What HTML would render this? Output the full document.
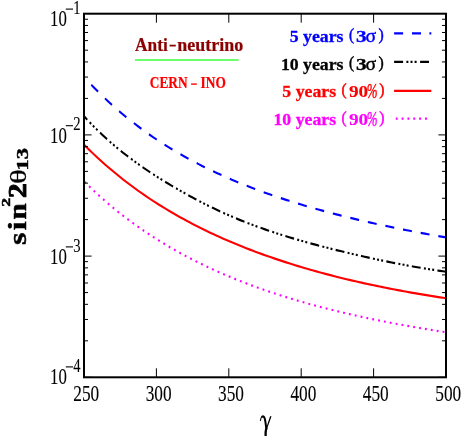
<!DOCTYPE html>
<html><head><meta charset="utf-8"><title>plot</title>
<style>html,body{margin:0;padding:0;background:#fff;}body{width:463px;height:436px;overflow:hidden;}svg{display:block;will-change:transform;opacity:0.999;}text{font-family:"Liberation Serif",serif;}</style></head><body>
<svg width="463" height="436" viewBox="0 0 463 436">
<rect x="0" y="0" width="463" height="436" fill="#fff"/>
<g transform="scale(0.85,1)" fill="none" stroke-width="2.15">
<path d="M98.82 76.94 L102.37 80.23 L105.92 83.45 L109.47 86.60 L113.02 89.67 L116.57 92.68 L120.12 95.63 L123.67 98.51 L127.22 101.34 L130.76 104.10 L134.31 106.80 L137.86 109.45 L141.41 112.04 L144.96 114.58 L148.51 117.06 L152.06 119.50 L155.61 121.89 L159.16 124.22 L162.71 126.51 L166.25 128.76 L169.80 130.96 L173.35 133.12 L176.90 135.23 L180.45 137.31 L184.00 139.34 L187.55 141.33 L191.10 143.29 L194.65 145.21 L198.20 147.09 L201.75 148.94 L205.29 150.75 L208.84 152.53 L212.39 154.28 L215.94 155.99 L219.49 157.68 L223.04 159.33 L226.59 160.96 L230.14 162.55 L233.69 164.12 L237.24 165.66 L240.78 167.17 L244.33 168.65 L247.88 170.11 L251.43 171.55 L254.98 172.96 L258.53 174.35 L262.08 175.71 L265.63 177.05 L269.18 178.37 L272.73 179.67 L276.27 180.95 L279.82 182.20 L283.37 183.44 L286.92 184.66 L290.47 185.85 L294.02 187.03 L297.57 188.19 L301.12 189.34 L304.67 190.46 L308.22 191.57 L311.76 192.66 L315.31 193.73 L318.86 194.79 L322.41 195.84 L325.96 196.86 L329.51 197.88 L333.06 198.88 L336.61 199.86 L340.16 200.83 L343.71 201.79 L347.25 202.73 L350.80 203.66 L354.35 204.57 L357.90 205.48 L361.45 206.37 L365.00 207.25 L368.55 208.11 L372.10 208.97 L375.65 209.81 L379.20 210.65 L382.75 211.47 L386.29 212.28 L389.84 213.08 L393.39 213.87 L396.94 214.65 L400.49 215.42 L404.04 216.18 L407.59 216.93 L411.14 217.67 L414.69 218.40 L418.24 219.12 L421.78 219.84 L425.33 220.54 L428.88 221.24 L432.43 221.93 L435.98 222.61 L439.53 223.28 L443.08 223.95 L446.63 224.61 L450.18 225.25 L453.73 225.90 L457.27 226.53 L460.82 227.16 L464.37 227.78 L467.92 228.40 L471.47 229.00 L475.02 229.61 L478.57 230.20 L482.12 230.79 L485.67 231.37 L489.22 231.95 L492.76 232.52 L496.31 233.08 L499.86 233.64 L503.41 234.20 L506.96 234.74 L510.51 235.29 L514.06 235.83 L517.61 236.36 L521.16 236.88 L524.71 237.41" stroke="#0000ff" stroke-dasharray="10.55 10.48" stroke-dashoffset="9.41"/>
<path d="M98.82 116.11 L102.37 119.43 L105.92 122.64 L109.47 125.76 L113.02 128.79 L116.57 131.74 L120.12 134.61 L123.67 137.40 L127.22 140.12 L130.76 142.77 L134.31 145.36 L137.86 147.89 L141.41 150.36 L144.96 152.77 L148.51 155.14 L152.06 157.45 L155.61 159.71 L159.16 161.93 L162.71 164.10 L166.25 166.24 L169.80 168.33 L173.35 170.38 L176.90 172.40 L180.45 174.38 L184.00 176.32 L187.55 178.24 L191.10 180.12 L194.65 181.98 L198.20 183.81 L201.75 185.61 L205.29 187.39 L208.84 189.14 L212.39 190.88 L215.94 192.58 L219.49 194.27 L223.04 195.93 L226.59 197.57 L230.14 199.19 L233.69 200.78 L237.24 202.34 L240.78 203.88 L244.33 205.40 L247.88 206.89 L251.43 208.35 L254.98 209.79 L258.53 211.20 L262.08 212.59 L265.63 213.95 L269.18 215.28 L272.73 216.59 L276.27 217.87 L279.82 219.13 L283.37 220.36 L286.92 221.56 L290.47 222.74 L294.02 223.90 L297.57 225.04 L301.12 226.15 L304.67 227.25 L308.22 228.32 L311.76 229.38 L315.31 230.42 L318.86 231.43 L322.41 232.43 L325.96 233.42 L329.51 234.39 L333.06 235.34 L336.61 236.28 L340.16 237.20 L343.71 238.11 L347.25 239.00 L350.80 239.88 L354.35 240.75 L357.90 241.61 L361.45 242.45 L365.00 243.28 L368.55 244.10 L372.10 244.91 L375.65 245.72 L379.20 246.51 L382.75 247.29 L386.29 248.06 L389.84 248.83 L393.39 249.58 L396.94 250.33 L400.49 251.07 L404.04 251.80 L407.59 252.53 L411.14 253.25 L414.69 253.96 L418.24 254.66 L421.78 255.36 L425.33 256.05 L428.88 256.73 L432.43 257.40 L435.98 258.07 L439.53 258.72 L443.08 259.37 L446.63 260.01 L450.18 260.64 L453.73 261.26 L457.27 261.88 L460.82 262.48 L464.37 263.07 L467.92 263.66 L471.47 264.23 L475.02 264.80 L478.57 265.36 L482.12 265.91 L485.67 266.44 L489.22 266.97 L492.76 267.49 L496.31 268.00 L499.86 268.50 L503.41 268.98 L506.96 269.46 L510.51 269.93 L514.06 270.39 L517.61 270.84 L521.16 271.27 L524.71 271.70" stroke="#000" stroke-dasharray="10.5 3.87 2.33 2.58 2.33 2.58 2.33 3.85" stroke-dashoffset="5.22"/>
<path d="M98.82 144.60 L102.37 147.62 L105.92 150.58 L109.47 153.48 L113.02 156.33 L116.57 159.11 L120.12 161.84 L123.67 164.52 L127.22 167.14 L130.76 169.72 L134.31 172.24 L137.86 174.72 L141.41 177.15 L144.96 179.53 L148.51 181.87 L152.06 184.17 L155.61 186.42 L159.16 188.63 L162.71 190.80 L166.25 192.93 L169.80 195.02 L173.35 197.08 L176.90 199.09 L180.45 201.07 L184.00 203.02 L187.55 204.93 L191.10 206.81 L194.65 208.66 L198.20 210.47 L201.75 212.25 L205.29 214.00 L208.84 215.72 L212.39 217.42 L215.94 219.08 L219.49 220.72 L223.04 222.33 L226.59 223.91 L230.14 225.46 L233.69 227.00 L237.24 228.50 L240.78 229.98 L244.33 231.44 L247.88 232.88 L251.43 234.29 L254.98 235.68 L258.53 237.04 L262.08 238.39 L265.63 239.71 L269.18 241.02 L272.73 242.30 L276.27 243.57 L279.82 244.81 L283.37 246.04 L286.92 247.25 L290.47 248.44 L294.02 249.61 L297.57 250.76 L301.12 251.90 L304.67 253.02 L308.22 254.12 L311.76 255.21 L315.31 256.27 L318.86 257.33 L322.41 258.37 L325.96 259.39 L329.51 260.40 L333.06 261.39 L336.61 262.37 L340.16 263.33 L343.71 264.28 L347.25 265.21 L350.80 266.13 L354.35 267.04 L357.90 267.94 L361.45 268.82 L365.00 269.69 L368.55 270.54 L372.10 271.39 L375.65 272.22 L379.20 273.04 L382.75 273.84 L386.29 274.64 L389.84 275.42 L393.39 276.20 L396.94 276.96 L400.49 277.71 L404.04 278.45 L407.59 279.18 L411.14 279.90 L414.69 280.61 L418.24 281.31 L421.78 282.00 L425.33 282.68 L428.88 283.34 L432.43 284.00 L435.98 284.66 L439.53 285.30 L443.08 285.93 L446.63 286.55 L450.18 287.17 L453.73 287.77 L457.27 288.37 L460.82 288.96 L464.37 289.54 L467.92 290.11 L471.47 290.68 L475.02 291.23 L478.57 291.78 L482.12 292.32 L485.67 292.86 L489.22 293.38 L492.76 293.90 L496.31 294.41 L499.86 294.91 L503.41 295.41 L506.96 295.90 L510.51 296.38 L514.06 296.86 L517.61 297.33 L521.16 297.79 L524.71 298.25" stroke="#ff0000"/>
<path d="M98.82 181.30 L102.37 184.28 L105.92 187.20 L109.47 190.06 L113.02 192.87 L116.57 195.62 L120.12 198.31 L123.67 200.96 L127.22 203.55 L130.76 206.09 L134.31 208.59 L137.86 211.03 L141.41 213.43 L144.96 215.79 L148.51 218.10 L152.06 220.37 L155.61 222.59 L159.16 224.78 L162.71 226.92 L166.25 229.03 L169.80 231.09 L173.35 233.12 L176.90 235.12 L180.45 237.07 L184.00 239.00 L187.55 240.88 L191.10 242.74 L194.65 244.56 L198.20 246.35 L201.75 248.11 L205.29 249.83 L208.84 251.53 L212.39 253.20 L215.94 254.84 L219.49 256.45 L223.04 258.04 L226.59 259.59 L230.14 261.12 L233.69 262.63 L237.24 264.11 L240.78 265.56 L244.33 267.00 L247.88 268.40 L251.43 269.79 L254.98 271.15 L258.53 272.49 L262.08 273.81 L265.63 275.10 L269.18 276.38 L272.73 277.63 L276.27 278.87 L279.82 280.08 L283.37 281.28 L286.92 282.45 L290.47 283.61 L294.02 284.75 L297.57 285.87 L301.12 286.98 L304.67 288.06 L308.22 289.13 L311.76 290.19 L315.31 291.23 L318.86 292.25 L322.41 293.25 L325.96 294.24 L329.51 295.22 L333.06 296.18 L336.61 297.13 L340.16 298.06 L343.71 298.98 L347.25 299.89 L350.80 300.78 L354.35 301.66 L357.90 302.52 L361.45 303.38 L365.00 304.22 L368.55 305.05 L372.10 305.86 L375.65 306.67 L379.20 307.46 L382.75 308.24 L386.29 309.01 L389.84 309.77 L393.39 310.52 L396.94 311.26 L400.49 311.99 L404.04 312.71 L407.59 313.42 L411.14 314.12 L414.69 314.81 L418.24 315.49 L421.78 316.16 L425.33 316.82 L428.88 317.47 L432.43 318.11 L435.98 318.75 L439.53 319.38 L443.08 319.99 L446.63 320.60 L450.18 321.21 L453.73 321.80 L457.27 322.39 L460.82 322.96 L464.37 323.54 L467.92 324.10 L471.47 324.66 L475.02 325.20 L478.57 325.75 L482.12 326.28 L485.67 326.81 L489.22 327.33 L492.76 327.85 L496.31 328.36 L499.86 328.86 L503.41 329.36 L506.96 329.85 L510.51 330.33 L514.06 330.81 L517.61 331.28 L521.16 331.75 L524.71 332.21" stroke="#ff00ff" stroke-dasharray="2.2 4.776" stroke-dashoffset="6.25"/>
</g>
<g stroke="#000" stroke-width="1" fill="none">
<path d="M156.40 13.7 v9 M156.40 377.3 v-9 M228.80 13.7 v9 M228.80 377.3 v-9 M301.20 13.7 v9 M301.20 377.3 v-9 M373.60 13.7 v9 M373.60 377.3 v-9 M84.0 134.90 h7.6 M446.0 134.90 h-7.6 M84.0 98.42 h4.0 M446.0 98.42 h-4.0 M84.0 77.07 h4.0 M446.0 77.07 h-4.0 M84.0 61.93 h4.0 M446.0 61.93 h-4.0 M84.0 50.18 h4.0 M446.0 50.18 h-4.0 M84.0 40.59 h4.0 M446.0 40.59 h-4.0 M84.0 32.47 h4.0 M446.0 32.47 h-4.0 M84.0 25.45 h4.0 M446.0 25.45 h-4.0 M84.0 19.25 h4.0 M446.0 19.25 h-4.0 M84.0 256.10 h7.6 M446.0 256.10 h-7.6 M84.0 219.62 h4.0 M446.0 219.62 h-4.0 M84.0 198.27 h4.0 M446.0 198.27 h-4.0 M84.0 183.13 h4.0 M446.0 183.13 h-4.0 M84.0 171.38 h4.0 M446.0 171.38 h-4.0 M84.0 161.79 h4.0 M446.0 161.79 h-4.0 M84.0 153.67 h4.0 M446.0 153.67 h-4.0 M84.0 146.65 h4.0 M446.0 146.65 h-4.0 M84.0 140.45 h4.0 M446.0 140.45 h-4.0 M84.0 377.30 h7.6 M446.0 377.30 h-7.6 M84.0 340.82 h4.0 M446.0 340.82 h-4.0 M84.0 319.47 h4.0 M446.0 319.47 h-4.0 M84.0 304.33 h4.0 M446.0 304.33 h-4.0 M84.0 292.58 h4.0 M446.0 292.58 h-4.0 M84.0 282.99 h4.0 M446.0 282.99 h-4.0 M84.0 274.87 h4.0 M446.0 274.87 h-4.0 M84.0 267.85 h4.0 M446.0 267.85 h-4.0 M84.0 261.65 h4.0 M446.0 261.65 h-4.0"/>
</g>
<rect x="84.0" y="13.7" width="362.00" height="363.60" fill="none" stroke="#000" stroke-width="2"/>
<g transform="translate(50.1,26.20)"><text x="0" y="0" font-size="24" stroke="#000" stroke-width="0.12" transform="scale(0.70,1)">10</text><path d="M15.7 -17.1 H22.9" stroke="#000" stroke-width="1.1" fill="none"/><text x="0" y="0" font-size="18.5" stroke="#000" stroke-width="0.1" text-anchor="middle" transform="translate(26.8,-12.4) scale(0.79,1)">1</text></g>
<g transform="translate(50.1,142.80)"><text x="0" y="0" font-size="24" stroke="#000" stroke-width="0.12" transform="scale(0.70,1)">10</text><path d="M15.7 -17.1 H22.9" stroke="#000" stroke-width="1.1" fill="none"/><text x="0" y="0" font-size="18.5" stroke="#000" stroke-width="0.1" text-anchor="middle" transform="translate(26.8,-12.4) scale(0.79,1)">2</text></g>
<g transform="translate(50.1,264.00)"><text x="0" y="0" font-size="24" stroke="#000" stroke-width="0.12" transform="scale(0.70,1)">10</text><path d="M15.7 -17.1 H22.9" stroke="#000" stroke-width="1.1" fill="none"/><text x="0" y="0" font-size="18.5" stroke="#000" stroke-width="0.1" text-anchor="middle" transform="translate(26.8,-12.4) scale(0.79,1)">3</text></g>
<g transform="translate(50.1,384.00)"><text x="0" y="0" font-size="24" stroke="#000" stroke-width="0.12" transform="scale(0.70,1)">10</text><path d="M15.7 -17.1 H22.9" stroke="#000" stroke-width="1.1" fill="none"/><text x="0" y="0" font-size="18.5" stroke="#000" stroke-width="0.1" text-anchor="middle" transform="translate(26.8,-12.4) scale(0.79,1)">4</text></g>
<g transform="translate(86.20,400.6) scale(0.745,1)"><text x="0" y="0" font-size="23.2" stroke="#000" stroke-width="0.12" text-anchor="middle">250</text></g>
<g transform="translate(158.60,400.6) scale(0.745,1)"><text x="0" y="0" font-size="23.2" stroke="#000" stroke-width="0.12" text-anchor="middle">300</text></g>
<g transform="translate(231.00,400.6) scale(0.745,1)"><text x="0" y="0" font-size="23.2" stroke="#000" stroke-width="0.12" text-anchor="middle">350</text></g>
<g transform="translate(303.40,400.6) scale(0.745,1)"><text x="0" y="0" font-size="23.2" stroke="#000" stroke-width="0.12" text-anchor="middle">400</text></g>
<g transform="translate(375.80,400.6) scale(0.745,1)"><text x="0" y="0" font-size="23.2" stroke="#000" stroke-width="0.12" text-anchor="middle">450</text></g>
<g transform="translate(448.20,400.6) scale(0.745,1)"><text x="0" y="0" font-size="23.2" stroke="#000" stroke-width="0.12" text-anchor="middle">500</text></g>
<g fill="none" stroke="#000" stroke-linecap="round"><path d="M260.4 420.4 C260.7 418.3 261.4 416.9 262.4 416.5" stroke-width="1.1"/><path d="M262.2 416.6 C263.4 415.9 264.4 416.8 265.0 419.6 C265.5 422.0 265.9 425.0 266.3 428.5" stroke-width="2.0"/><path d="M270.05 416.2 L271.55 416.2 L266.9 429.2 L266.0 428.6 Z" fill="#000" stroke="none"/><path d="M266.3 428.5 C265.6 431 265.4 434 265.8 437" stroke-width="2.3"/></g>
<g transform="translate(25.9,244.9) rotate(-90)" font-weight="bold" stroke="#000" stroke-width="0.5"><text x="0" y="0" font-size="25" transform="scale(1.27,1)">s</text><text x="0" y="0" font-size="25" transform="translate(14.7,0) scale(1.27,1)">i</text><text x="0" y="0" font-size="25" transform="translate(25.3,0) scale(1.16,1)">n</text><text x="0" y="0" font-size="12.1" transform="translate(38.2,-16.4) scale(1.45,1)">2</text><text x="0" y="0" font-size="24.3" stroke-width="0.9" transform="translate(46.8,-0.4) scale(1.2,1)">2</text><text x="0" y="0" font-size="24" font-weight="normal" stroke-width="0.3" transform="translate(61.0,0) scale(1.3,1)">θ</text><text x="0" y="0" font-size="16" stroke-width="0.4" transform="translate(74.4,2.3) scale(1.40,1)">13</text></g>
<g font-size="19.5" font-weight="bold" fill="#8b0000" stroke="#8b0000" stroke-width="0.25"><text x="0" y="0" transform="translate(135.1,50.5) scale(0.889,1)">Anti</text><text x="0" y="0" transform="translate(177.2,50.5) scale(0.923,1)">neutrino</text><path d="M169.6 45.6 H175.8" stroke-width="1.8" fill="none"/></g>
<path d="M135.0 60.0 H238.5" stroke="#6cff6c" stroke-width="2" fill="none"/>
<g font-size="16" font-weight="bold" fill="#ff0000" stroke="#ff0000" stroke-width="0.2"><text x="0" y="0" transform="translate(149.8,88) scale(0.835,1)">CERN</text><text x="0" y="0" transform="translate(200.6,88) scale(0.835,1)">INO</text><path d="M191.1 84.1 H196.8" stroke-width="1.4" fill="none"/></g>
<text x="0" y="0" font-size="17.75" fill="#0000ff" stroke="#0000ff" stroke-width="0.3" font-weight="bold" text-anchor="end" transform="translate(343.5,41.5) scale(1.0,1)">5 years</text>
<text x="0" y="0" font-size="16.9" fill="#0000ff" stroke="#0000ff" stroke-width="0.5" font-weight="normal" text-anchor="start" transform="translate(349.1,39.9) scale(0.9,1)">(</text>
<text x="0" y="0" font-size="17.75" fill="#0000ff" stroke="#0000ff" stroke-width="0.3" font-weight="bold" text-anchor="start" transform="translate(356.0,41.5) scale(1.2,1)">3</text>
<text x="0" y="0" font-size="19.8" fill="#0000ff" stroke="#0000ff" stroke-width="0.45" font-weight="normal" text-anchor="start" transform="translate(365.4,41.5) scale(1.0,1)">σ</text>
<text x="0" y="0" font-size="16.9" fill="#0000ff" stroke="#0000ff" stroke-width="0.5" font-weight="normal" text-anchor="start" transform="translate(378.5,39.9) scale(0.93,1)">)</text>
<text x="0" y="0" font-size="17.75" fill="#000" stroke="#000" stroke-width="0.3" font-weight="bold" text-anchor="end" transform="translate(343.5,69.7) scale(1.0,1)">10 years</text>
<text x="0" y="0" font-size="16.9" fill="#000" stroke="#000" stroke-width="0.5" font-weight="normal" text-anchor="start" transform="translate(349.1,68.10000000000001) scale(0.9,1)">(</text>
<text x="0" y="0" font-size="17.75" fill="#000" stroke="#000" stroke-width="0.3" font-weight="bold" text-anchor="start" transform="translate(356.0,69.7) scale(1.2,1)">3</text>
<text x="0" y="0" font-size="19.8" fill="#000" stroke="#000" stroke-width="0.45" font-weight="normal" text-anchor="start" transform="translate(365.4,69.7) scale(1.0,1)">σ</text>
<text x="0" y="0" font-size="16.9" fill="#000" stroke="#000" stroke-width="0.5" font-weight="normal" text-anchor="start" transform="translate(378.5,68.10000000000001) scale(0.93,1)">)</text>
<text x="0" y="0" font-size="17.75" fill="#ff0000" stroke="#ff0000" stroke-width="0.3" font-weight="bold" text-anchor="end" transform="translate(336.1,96.6) scale(1.0,1)">5 years</text>
<text x="0" y="0" font-size="16.9" fill="#ff0000" stroke="#ff0000" stroke-width="0.5" font-weight="normal" text-anchor="start" transform="translate(341.4,95.0) scale(0.9,1)">(</text>
<text x="0" y="0" font-size="17.75" fill="#ff0000" stroke="#ff0000" stroke-width="0.1" font-weight="bold" text-anchor="start" transform="translate(349.0,96.6) scale(1.085,1)">90</text>
<text x="0" y="0" font-size="20.5" fill="#ff0000" stroke="#ff0000" stroke-width="0.4" font-weight="normal" font-style="italic" text-anchor="start" transform="translate(366.8,97.5) scale(0.63,1)">%</text>
<text x="0" y="0" font-size="16.9" fill="#ff0000" stroke="#ff0000" stroke-width="0.5" font-weight="normal" text-anchor="start" transform="translate(379.2,95.0) scale(0.93,1)">)</text>
<text x="0" y="0" font-size="17.75" fill="#ff00ff" stroke="#ff00ff" stroke-width="0.3" font-weight="bold" text-anchor="end" transform="translate(336.1,124.7) scale(1.0,1)">10 years</text>
<text x="0" y="0" font-size="16.9" fill="#ff00ff" stroke="#ff00ff" stroke-width="0.5" font-weight="normal" text-anchor="start" transform="translate(341.4,123.10000000000001) scale(0.9,1)">(</text>
<text x="0" y="0" font-size="17.75" fill="#ff00ff" stroke="#ff00ff" stroke-width="0.1" font-weight="bold" text-anchor="start" transform="translate(349.0,124.7) scale(1.085,1)">90</text>
<text x="0" y="0" font-size="20.5" fill="#ff00ff" stroke="#ff00ff" stroke-width="0.4" font-weight="normal" font-style="italic" text-anchor="start" transform="translate(366.8,125.60000000000001) scale(0.63,1)">%</text>
<text x="0" y="0" font-size="16.9" fill="#ff00ff" stroke="#ff00ff" stroke-width="0.5" font-weight="normal" text-anchor="start" transform="translate(379.2,123.10000000000001) scale(0.93,1)">)</text>
<g fill="none" stroke-width="2.2">
<path d="M394.1 33.4 H403.1 M412 33.4 H421 M429.4 33.4 H431.3" stroke="#0000ff"/>
<path d="M394.1 61.9 H429" stroke="#000" stroke-dasharray="9 3.3 2 2.1 2 2.1 2 3.5"/>
<path d="M394.1 90.8 H431.3" stroke="#ff0000"/>
<path d="M395.75 118.6 H428" stroke="#ff00ff" stroke-dasharray="1.9 3.95"/>
</g>
</svg></body></html>
